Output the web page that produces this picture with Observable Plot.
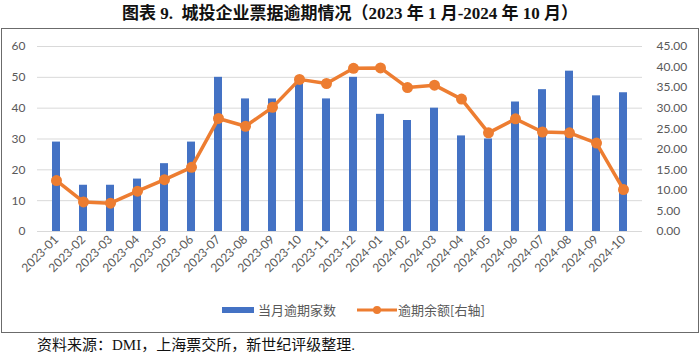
<!DOCTYPE html>
<html>
<head>
<meta charset="utf-8">
<script src="https://cdn.jsdelivr.net/npm/d3@7"></script>
<script src="https://cdn.jsdelivr.net/npm/@observablehq/plot@0.6"></script>
<style>
  body { margin: 0; width: 700px; height: 359px; overflow: hidden; background: #fff; position: relative; }
  #title { position: absolute; top: 0; left: 0; width: 700px; height: 28px; line-height: 28px; text-align: center;
    font-family: "Liberation Serif", "Noto Sans CJK SC", serif; font-weight: bold; font-size: 17px; color: #111; }
  #frame { position: absolute; top: 28px; left: 1px; width: 696px; height: 303px; border: 1.5px solid #6b6b6b; box-sizing: content-box; }
  #chart { position: absolute; top: 2px; left: 0; }
  #legend { position: absolute; top: 270px; left: 0; width: 696px; height: 22px; font-family: "Noto Sans CJK SC", sans-serif;
    font-size: 13px; color: #595959; }
  #legend .item { position: absolute; top: 0; height: 22px; line-height: 22px; white-space: nowrap; }
  #caption { position: absolute; top: 335px; left: 37px; font-family: "Liberation Serif", "Noto Sans CJK SC", serif;
    font-size: 15px; color: #111; white-space: nowrap; line-height: 20px; }
</style>
</head>
<body>
<div id="title">图表 9.&nbsp; 城投企业票据逾期情况（2023 年 1 月-2024 年 10 月）</div>
<div id="frame">
  <div id="chart"></div>
  <div id="legend"></div>
</div>
<div id="caption">资料来源：DMI，上海票交所，新世纪评级整理.</div>
<script>
// ---- data ----
const months = ["2023-01","2023-02","2023-03","2023-04","2023-05","2023-06","2023-07","2023-08","2023-09","2023-10","2023-11","2023-12",
                "2024-01","2024-02","2024-03","2024-04","2024-05","2024-06","2024-07","2024-08","2024-09","2024-10"];
const overdueCount = [29,15,15,17,22,29,50,43,43,49,43,50,38,36,40,31,30,42,46,52,44,45];
const overdueAmount = [12.4,7.2,6.9,9.8,12.6,15.6,27.5,25.6,30.2,37.0,36.0,39.7,39.8,35.0,35.6,32.2,24.0,27.4,24.2,24.0,21.5,10.2];
const leftTicks = [0,10,20,30,40,50,60];
const rightTicks = [0,5,10,15,20,25,30,35,40,45];
const seriesNames = ["当月逾期家数","逾期余额[右轴]"];
const colors = ["#4472C4","#ED7D31"];

const ratio = 45 / 60; // right axis max / left axis max
const data = months.map((m, i) => ({month: m, count: overdueCount[i], amount: overdueAmount[i]}));

const chart = Plot.plot({
  width: 696,
  height: 268,
  marginTop: 15,
  marginBottom: 68,
  marginLeft: 35,
  marginRight: 56,
  style: {fontFamily: "Lato, sans-serif", fontSize: "12px", color: "#595959", background: "transparent"},
  x: {domain: months, paddingInner: 0.69, paddingOuter: 0.345, label: null},
  y: {domain: [0, 60], label: null},
  marks: [
    Plot.gridY(leftTicks, {stroke: "#d9d9d9", strokeOpacity: 1}),
    Plot.axisY(leftTicks, {anchor: "left", tickSize: 0, tickPadding: 12, label: null, fill: "#595959"}),
    Plot.axisY(rightTicks.map(v => v / ratio), {anchor: "right", tickSize: 0, tickPadding: 14, label: null,
      tickFormat: d => (d * ratio).toFixed(2), fill: "#595959"}),
    Plot.axisX({tickSize: 0, tickPadding: 6, tickRotate: -45, label: null, fill: "#595959"}),
    Plot.barY(data, {x: "month", y: "count", fill: colors[0]}),
    Plot.line(data, {x: "month", y: d => d.amount / ratio, stroke: colors[1], strokeWidth: 3.5, curve: "linear"}),
    Plot.dot(data, {x: "month", y: d => d.amount / ratio, r: 5.5, fill: colors[1], stroke: "none"})
  ]
});
document.getElementById("chart").appendChild(chart);

// ---- legend ----
const legend = document.getElementById("legend");
legend.innerHTML = `
  <div class="item" style="left:220px;"><svg width="32" height="22" style="vertical-align:top"><rect x="0" y="8" width="32" height="6" fill="${colors[0]}"/></svg></div>
  <div class="item" style="left:256px;">${seriesNames[0]}</div>
  <div class="item" style="left:355px;"><svg width="40" height="22" style="vertical-align:top"><line x1="0" x2="40" y1="11" y2="11" stroke="${colors[1]}" stroke-width="3"/><circle cx="20" cy="11" r="4" fill="${colors[1]}"/></svg></div>
  <div class="item" style="left:396px;">${seriesNames[1]}</div>`;
</script>
</body>
</html>
